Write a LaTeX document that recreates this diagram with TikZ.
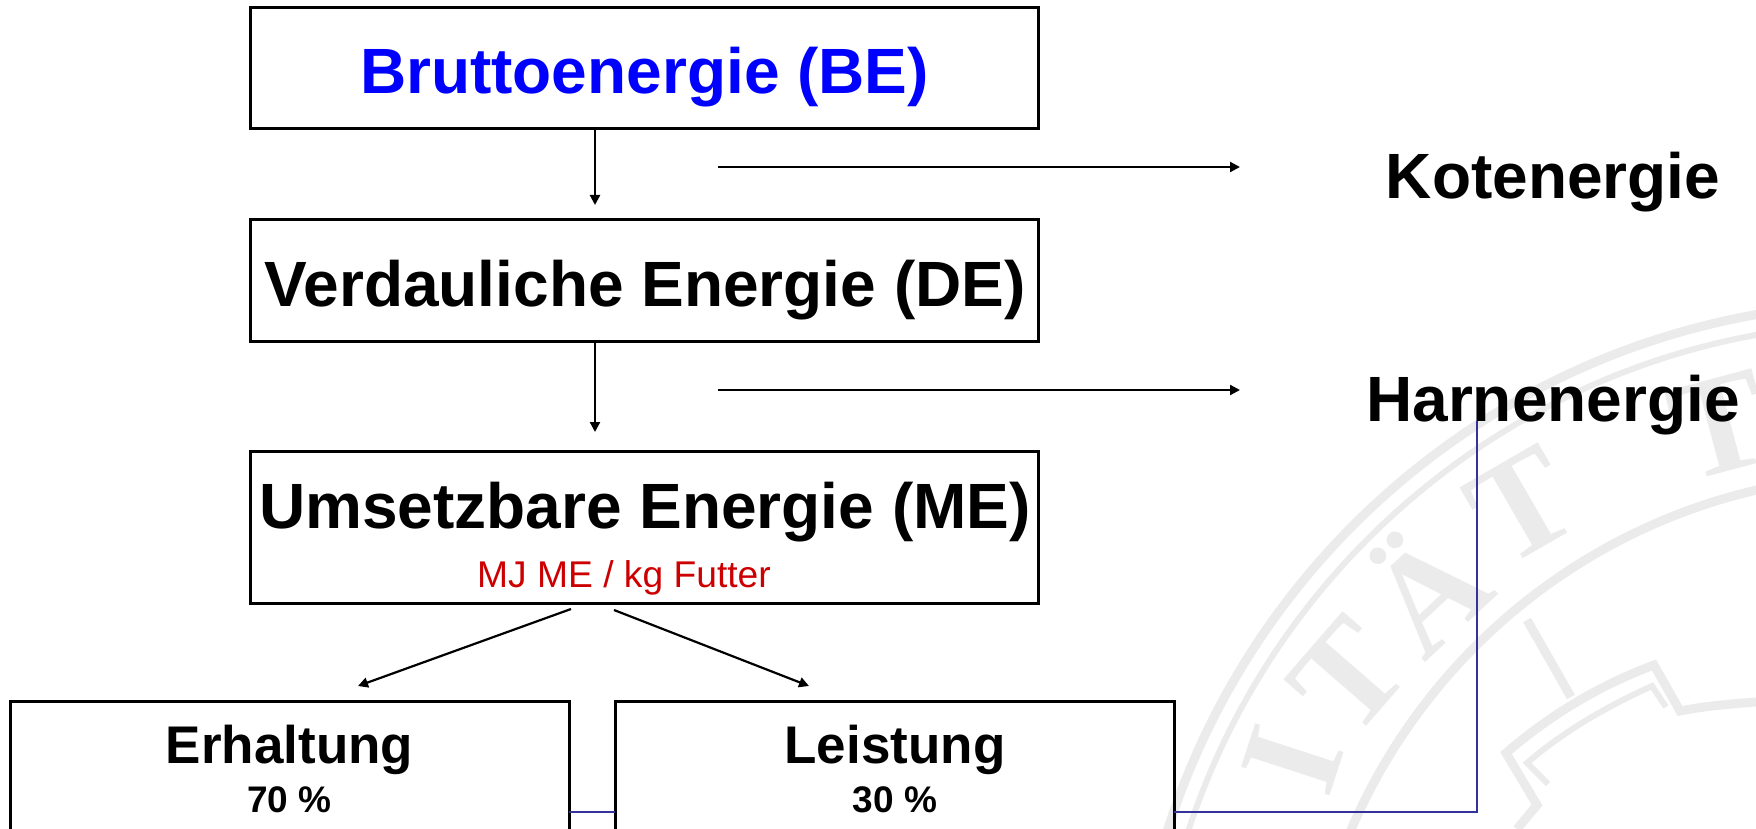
\documentclass[tikz,border=0pt]{standalone}
\usepackage{fontspec}
\setmainfont{Liberation Sans}
\newfontfamily\sealfont{Liberation Serif}
\usetikzlibrary{arrows.meta}
\definecolor{sealgray}{HTML}{EBEBEB}
\definecolor{linkblue}{HTML}{333399}
\definecolor{mered}{HTML}{CC0000}
\definecolor{beblue}{HTML}{0000FF}
\tikzset{
  box/.style={draw=black,line width=3pt,rectangle,inner sep=0pt,outer sep=0pt},
  flow/.style={draw=black,line width=2.2pt,-{Triangle[length=10pt,width=10pt]}},
  link/.style={draw=linkblue,line width=2pt},
  sealline/.style={draw=sealgray,line width=9pt},
  sealthin/.style={draw=sealgray,line width=6pt},
  sealletter/.style={text=sealgray,font=\sealfont\bfseries\fontsize{142}{150}\selectfont,inner sep=0pt},
  big/.style={anchor=base,inner sep=0pt,font=\bfseries\fontsize{64}{70}\selectfont},
  mid/.style={anchor=base,inner sep=0pt,font=\bfseries\fontsize{53}{60}\selectfont},
  pct/.style={anchor=base,inner sep=0pt,font=\bfseries\fontsize{37}{42}\selectfont},
  sub/.style={anchor=base,inner sep=0pt,text=mered,font=\fontsize{37.2}{42}\selectfont}
}
\begin{document}
\begin{tikzpicture}[x=1pt,y=-1pt]
\useasboundingbox (0,0) rectangle (1756,829);
\clip (0,0) rectangle (1756,829);
% seal watermark
\draw[sealline] (1889,1060) circle [radius=757];
\draw[sealthin] (1889,1060) circle [radius=737];
\draw[sealline] (1889,1060) circle [radius=585];
\draw[sealline] (1527,620) -- (1571,697);
\draw[sealline,line join=miter] (1517,829) -- (1537,805) -- (1506,753) .. controls (1550,715) and (1600,685) .. (1654,665) -- (1680,711) .. controls (1705,706) and (1730,704) .. (1756,702);
\draw[sealthin] (1548,784) -- (1527,763) .. controls (1565,730) and (1610,705) .. (1652,686) -- (1666,707);
\node[sealletter,rotate=72] (sealI) at (1293,760) {I};
\node[sealletter,rotate=49] (sealT) at (1348,676) {T};
\node[sealletter,rotate=43] (sealA) at (1422,585) {Ä};
\node[sealletter,rotate=30] (sealTb) at (1522,506) {T};
\node[sealletter,rotate=15] (sealTc) at (1720,425) {T};
% boxes
\node[box,minimum width=788pt,minimum height=121pt] (be) at (644,68.5) {};
\node[box,minimum width=788pt,minimum height=121pt] (de) at (644,280.5) {};
\node[box,minimum width=788pt,minimum height=152pt] (me) at (644,527) {};
\node[box,minimum width=559pt,minimum height=180pt] (erh) at (289.5,791) {};
\node[box,minimum width=559pt,minimum height=180pt] (lei) at (894.5,791) {};
% labels
\node[big,text=beblue] (tbe) at (644.5,93.5) {Bruttoenergie (BE)};
\node[big] (tde) at (645,306.5) {Verdauliche Energie (DE)};
\node[big] (tme) at (645,528.5) {Umsetzbare Energie (ME)};
\node[sub] (tsub) at (624,587) {MJ ME / kg Futter};
\node[mid] (terh) at (289.5,763) {Erhaltung};
\node[pct] (perh) at (289.5,812) {70 \%};
\node[mid] (tlei) at (895,763) {Leistung};
\node[pct] (plei) at (895,812) {30 \%};
\coordinate (kstart) at (718,167);
\coordinate (kend) at (1240,167);
\coordinate (hstart) at (718,390);
\coordinate (hend) at (1240,390);
\coordinate (bend) at (1477,811.5);
\coordinate (dl1) at (571,609);
\coordinate (dl2) at (358,686);
\coordinate (dr1) at (614,610);
\coordinate (dr2) at (809,686);
\coordinate (cbe) at (595,205);
\coordinate (cde) at (595,432);
% connectors
\draw[flow] (be.south -| cbe) -- (cbe);
\draw[flow] (de.south -| cde) -- (cde);
\draw[flow] (kstart) -- (kend);
\draw[flow] (hstart) -- (hend);
\draw[flow] (dl1) -- (dl2);
\draw[flow] (dr1) -- (dr2);
\draw[link] (erh.east |- bend) -- (lei.west |- bend);
\node[big] (kot) at (1553,199) {Kotenergie};
\node[big] (har) at (1553,421) {Harnenergie};
\draw[link] (lei.east |- bend) -- (bend) -- (bend |- har.base);
\end{tikzpicture}
\end{document}
